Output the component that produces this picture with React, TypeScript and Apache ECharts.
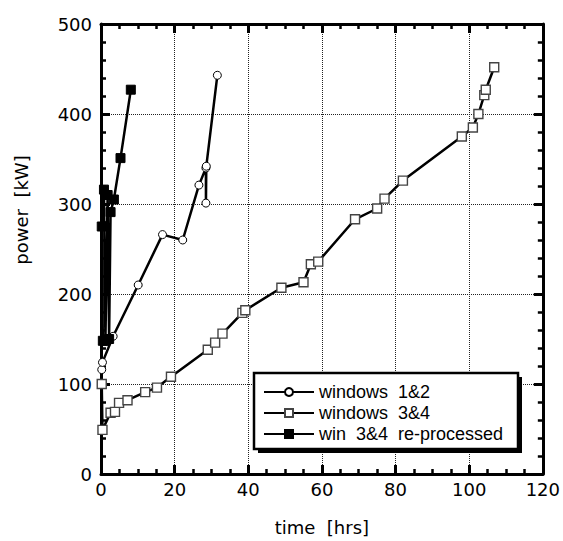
import React, { useEffect, useRef } from "react";
import * as echarts from "echarts";

// time [hrs], power [kW]
const win12: [number, number][] = [
  [0.2, 116], [0.4, 124], [3.3, 153], [10.1, 210], [16.7, 266], [22.2, 260],
  [26.6, 321], [28.5, 340], [28.5, 301], [28.6, 342], [31.6, 443],
];
const win34: [number, number][] = [
  [0.2, 100], [0.4, 49], [2.6, 68], [3.8, 69], [4.9, 79], [7.2, 82], [12.0, 91],
  [15.2, 96], [19.0, 108], [29.0, 138], [31.0, 146], [33.0, 156], [38.4, 179],
  [39.2, 182], [49.0, 207], [55.0, 213], [57.0, 233], [59.0, 236], [69.0, 283],
  [75.0, 295], [77.0, 306], [82.0, 326], [98.0, 375], [101.0, 385], [102.5, 400],
  [104.1, 421], [104.5, 427], [106.8, 452],
];
const win34re: [number, number][] = [
  [0.5, 148], [0.2, 275], [0.8, 316], [1.2, 148], [1.8, 310], [2.2, 150],
  [2.6, 291], [3.5, 305], [5.3, 351], [8.1, 427],
];
const seriesNames = ["windows  1&2", "windows  3&4", "win  3&4  re-processed"];
const xRange = { min: 0, max: 120, interval: 20 };
const yRange = { min: 0, max: 500, interval: 100 };
const xTitle = "time  [hrs]";
const yTitle = "power  [kW]";

const axisFont = "DejaVu Sans";
const legendFont = "Liberation Sans";

function baseAxis(range: { min: number; max: number; interval: number }, minorSplit: number) {
  return {
    type: "value" as const,
    min: range.min,
    max: range.max,
    interval: range.interval,
    axisLine: { show: true, onZero: false, lineStyle: { color: "#000", width: 3 } },
    axisTick: { show: true, inside: true, length: 9, lineStyle: { color: "#000", width: 3 } },
    minorTick: { show: true, splitNumber: minorSplit, length: 5, lineStyle: { color: "#000", width: 2.5 } },
  };
}

export default function App() {
  const ref = useRef<HTMLDivElement>(null);
  useEffect(() => {
    if (!ref.current) return;
    const chart = echarts.init(ref.current, undefined, { renderer: "svg" });
    const lineW = 2.5;
    chart.setOption({
      animation: false,
      backgroundColor: "#fff",
      grid: { left: 101, right: 20, top: 24, bottom: 67, containLabel: false },
      xAxis: [
        {
          ...baseAxis(xRange, 4),
          position: "bottom",
          name: xTitle,
          nameLocation: "middle",
          nameGap: 44,
          nameTextStyle: { fontFamily: axisFont, fontSize: 18, color: "#000" },
          axisLabel: { margin: 6, fontFamily: axisFont, fontSize: 18, color: "#000" },
          splitLine: { show: true, lineStyle: { type: "dotted", color: "#222", width: 1 } },
        },
        {
          ...baseAxis(xRange, 4),
          position: "top",
          axisLabel: { show: false },
          splitLine: { show: false },
        },
      ],
      yAxis: [
        {
          ...baseAxis(yRange, 5),
          position: "left",
          axisLabel: { margin: 9, fontFamily: axisFont, fontSize: 18, color: "#000" },
          splitLine: { show: true, lineStyle: { type: "dotted", color: "#222", width: 1 } },
        },
        {
          ...baseAxis(yRange, 5),
          position: "right",
          axisLabel: { show: false },
          splitLine: { show: false },
        },
      ],
      legend: {
        orient: "vertical",
        left: 263,
        top: 383,
        padding: 0,
        itemGap: 3,
        itemWidth: 50,
        itemHeight: 10,
        textStyle: { fontFamily: legendFont, fontSize: 18, lineHeight: 18, color: "#000" },
        data: seriesNames,
      },
      graphic: [
        { type: "rect", z: 1, shape: { x: 258, y: 377, width: 264, height: 76 }, style: { fill: "#000" } },
        {
          type: "rect",
          z: 2,
          shape: { x: 254, y: 373, width: 264, height: 76 },
          style: { fill: "#fff", stroke: "#000", lineWidth: 2.5 },
        },
        {
          type: "text",
          z: 3,
          x: 21,
          y: 210,
          rotation: Math.PI / 2,
          style: {
            text: yTitle,
            fontFamily: axisFont,
            fontSize: 18,
            fill: "#000",
            align: "center",
            verticalAlign: "middle",
          },
        },
      ],
      series: [
        {
          name: seriesNames[0],
          type: "line",
          data: win12,
          symbol: "circle",
          symbolSize: 8,
          lineStyle: { color: "#000", width: lineW },
          itemStyle: { color: "#fff", borderColor: "#000", borderWidth: 1 },
          z: 3,
        },
        {
          name: seriesNames[1],
          type: "line",
          data: win34,
          symbol: "rect",
          symbolSize: 9,
          lineStyle: { color: "#000", width: lineW },
          itemStyle: { color: "#fff", borderColor: "#444", borderWidth: 1.4 },
          z: 3,
        },
        {
          name: seriesNames[2],
          type: "line",
          data: win34re,
          symbol: "rect",
          symbolSize: 9,
          lineStyle: { color: "#000", width: lineW },
          itemStyle: { color: "#000", borderColor: "#000", borderWidth: 1 },
          z: 4,
        },
      ],
    });
    return () => chart.dispose();
  }, []);
  return <div ref={ref} style={{ width: 563, height: 541, position: "absolute", left: 0, top: 0 }} />;
}
